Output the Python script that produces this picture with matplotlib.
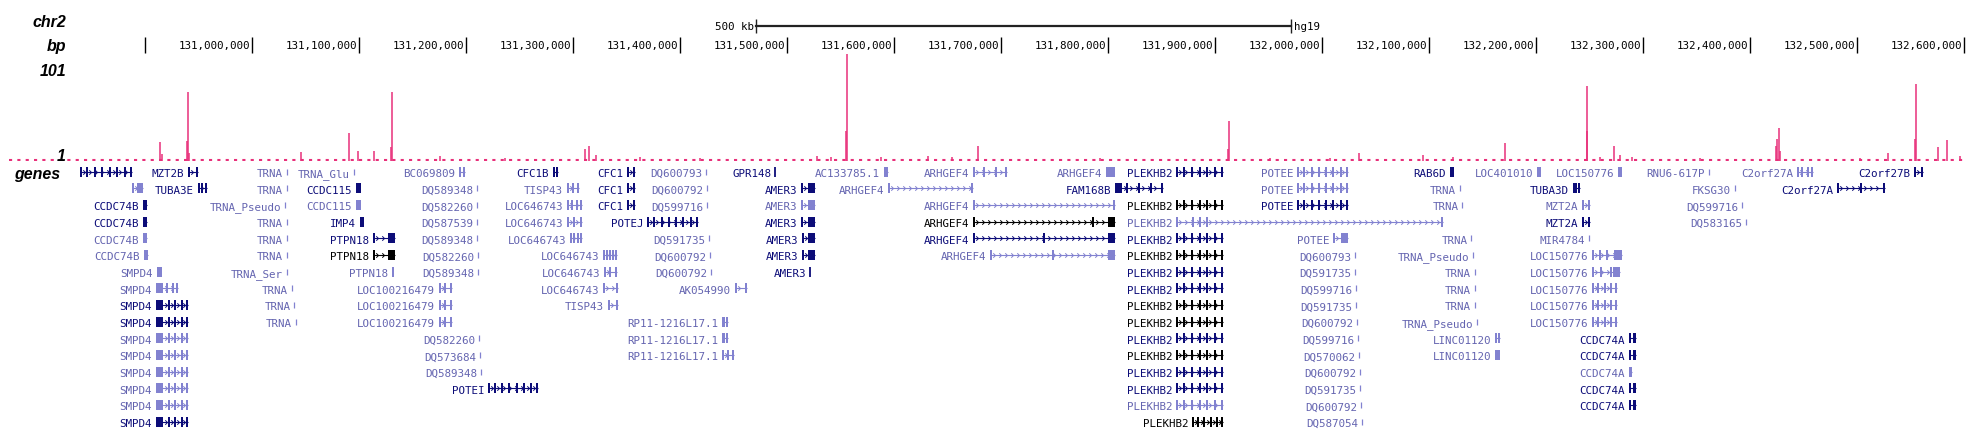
import numpy as np
import matplotlib
matplotlib.use("Agg")
import matplotlib.pyplot as plt
from matplotlib.patches import Rectangle
from matplotlib.path import Path

# ---------------------------------------------------------------- data (kb, hg19 chr2)
VIEW = (130764.2, 132602.5)
RULER_START = 130899.7
TICKS = [131000, 131100, 131200, 131300, 131400, 131500, 131600, 131700, 131800,
         131900, 132000, 132100, 132200, 132300, 132400, 132500, 132600]
SCALE_START = 131470.7
SCALE_LEN = 500

# signal track (peaks + small bumps)
PEAK_POS = [130913.7, 130916.0, 130938.7, 130939.6, 130941.0, 131045.5, 131090.4, 131098.5,
            131113.7, 131129.7, 131130.6, 131175.4, 131236.2, 131310.9, 131314.7, 131321.2,
            131362.3, 131418.4, 131527.8, 131540.8, 131555.0, 131555.8, 131587.6, 131631.5,
            131653.9, 131678.2, 131792.0, 131912.0, 131912.5, 131951.0, 132007.0, 132034.5,
            132094.1, 132122.1, 132170.7, 132247.0, 132247.8, 132259.6, 132272.6, 132278.2,
            132289.4, 132353.0, 132423.7, 132425.0, 132426.8, 132428.0, 132502.5, 132528.6,
            132554.0, 132554.5, 132575.4, 132583.5, 132596.0]
PEAK_VAL = [19, 7, 20, 69, 8, 9, 28, 10,
            10, 14, 69, 5, 3, 12, 15, 6,
            4, 3, 5, 4, 30, 107, 4, 5,
            4, 15, 3, 12, 40, 3, 3, 8,
            6, 4, 18, 30, 75, 4, 15, 6,
            4, 3, 15, 22, 33, 10, 3, 8,
            22, 77, 14, 21, 5]

# gene rows: (label, start, end, shade, exons, cap)
ROW0 = [("", 130839.0, 130887.6, 'd', 8, ''), ("MZT2B", 130939.9, 130949.2, 'd', 2, ''),
        ("TRNA", 131032.4, 131032.4, 'l', 0, ''), ("TRNA_Glu", 131095.0, 131095.0, 'l', 0, ''),
        ("BC069809", 131193.2, 131198.8, 'l', 2, ''), ("CFC1B", 131281.0, 131285.7, 'd', 2, ''),
        ("CFC1", 131350.2, 131357.7, 'd', 2, ''), ("DQ600793", 131424.0, 131424.0, 'l', 0, ''),
        ("GPR148", 131488.5, 131488.5, 'd', 1, ''), ("AC133785.1", 131590.4, 131594.1, 'l', 2, ''),
        ("ARHGEF4", 131673.6, 131705.3, 'l', 4, ''), ("ARHGEF4", 131797.8, 131806.3, 'l', 0, ''),
        ("PLEKHB2", 131863.3, 131907.2, 'd', 7, ''), ("POTEE", 131976.4, 132024.0, 'l', 8, ''),
        ("RAB6D", 132119.3, 132123.1, 'd', 0, ''), ("LOC401010", 132200.7, 132204.4, 'l', 0, ''),
        ("LOC150776", 132276.4, 132280.1, 'l', 0, ''), ("RNU6-617P", 132361.4, 132361.4, 'l', 0, ''),
        ("C2orf27A", 132443.6, 132458.6, 'l', 4, ''), ("C2orf27B", 132553.0, 132561.4, 'd', 2, '')]
ROW1 = [("", 130887.6, 130897.8, 'l', 2, 'R'), ("TUBA3E", 130949.2, 130957.7, 'd', 3, ''),
        ("TRNA", 131032.4, 131032.4, 'l', 0, ''), ("CCDC115", 131096.9, 131101.6, 'd', 0, ''),
        ("DQ589348", 131210.0, 131210.0, 'l', 0, ''), ("TISP43", 131294.1, 131305.3, 'l', 3, ''),
        ("CFC1", 131350.2, 131357.7, 'd', 2, ''), ("DQ600792", 131425.0, 131425.0, 'l', 0, ''),
        ("AMER3", 131512.8, 131525.9, 'd', 2, 'R'), ("ARHGEF4", 131594.1, 131673.6, 'l', 2, ''),
        ("FAM168B", 131806.3, 131851.1, 'd', 5, 'L'), ("POTEE", 131976.4, 132024.0, 'l', 8, ''),
        ("TRNA", 132128.7, 132128.7, 'l', 0, ''), ("TUBA3D", 132234.3, 132240.8, 'd', 3, ''),
        ("FKSG30", 132385.7, 132385.7, 'l', 0, ''), ("C2orf27A", 132481.0, 132525.9, 'd', 3, '')]
ROW2 = [("CCDC74B", 130897.8, 130901.6, 'd', 2, ''), ("TRNA_Pseudo", 131030.6, 131030.6, 'l', 0, ''),
        ("CCDC115", 131096.9, 131101.6, 'l', 0, ''), ("DQ582260", 131210.0, 131210.0, 'l', 0, ''),
        ("LOC646743", 131294.1, 131308.1, 'l', 4, ''), ("CFC1", 131350.2, 131357.7, 'd', 2, ''),
        ("DQ599716", 131425.0, 131425.0, 'l', 0, ''), ("AMER3", 131512.8, 131525.9, 'l', 2, 'R'),
        ("ARHGEF4", 131673.6, 131806.3, 'l', 2, ''), ("PLEKHB2", 131863.3, 131907.2, 'k', 7, ''),
        ("POTEE", 131976.4, 132024.0, 'd', 8, ''), ("TRNA", 132130.6, 132130.6, 'l', 0, ''),
        ("MZT2A", 132242.7, 132250.2, 'l', 2, ''), ("DQ599716", 132392.2, 132392.2, 'l', 0, '')]
ROW3 = [("CCDC74B", 130897.8, 130901.6, 'd', 2, ''), ("TRNA", 131032.4, 131032.4, 'l', 0, ''),
        ("IMP4", 131100.6, 131104.4, 'd', 0, ''), ("DQ587539", 131210.0, 131210.0, 'l', 0, ''),
        ("LOC646743", 131294.1, 131308.1, 'l', 3, ''), ("POTEJ", 131368.9, 131416.5, 'd', 8, ''),
        ("AMER3", 131512.8, 131525.9, 'd', 2, 'R'),
        ("ARHGEF4", 131673.6, 131806.3, 'k', (131673.6, 131785.6, 131806.3), 'R'),
        ("PLEKHB2", 131863.3, 132112.8, 'l', (131863.3, 131879.1, 131885.6, 131892.2, 132112.8), ''),
        ("MZT2A", 132242.7, 132250.2, 'd', 2, ''), ("DQ583165", 132396.0, 132396.0, 'l', 0, '')]
ROW4 = [("CCDC74B", 130897.8, 130901.6, 'l', 2, ''), ("TRNA", 131032.4, 131032.4, 'l', 0, ''),
        ("PTPN18", 131112.8, 131133.4, 'd', 2, 'R'), ("DQ589348", 131210.0, 131210.0, 'l', 0, ''),
        ("LOC646743", 131296.9, 131308.1, 'l', 4, ''), ("DQ591735", 131426.8, 131426.8, 'l', 0, ''),
        ("AMER3", 131513.7, 131525.9, 'd', 2, 'R'), ("ARHGEF4", 131673.6, 131806.3, 'd', 3, 'R'),
        ("PLEKHB2", 131863.3, 131907.2, 'd', 7, ''), ("POTEE", 132010.0, 132024.0, 'l', 2, 'R'),
        ("TRNA", 132139.0, 132139.0, 'l', 0, ''), ("MIR4784", 132249.3, 132249.3, 'l', 0, '')]
ROW5 = [("CCDC74B", 130898.8, 130902.5, 'l', 2, ''), ("TRNA", 131032.4, 131032.4, 'l', 0, ''),
        ("PTPN18", 131112.8, 131133.4, 'k', 2, 'R'), ("DQ582260", 131210.9, 131210.9, 'l', 0, ''),
        ("LOC646743", 131327.8, 131340.8, 'l', 5, ''), ("DQ600792", 131427.8, 131427.8, 'l', 0, ''),
        ("AMER3", 131513.7, 131525.9, 'd', 2, 'R'), ("ARHGEF4", 131689.4, 131806.3, 'l', 3, 'R'),
        ("PLEKHB2", 131863.3, 131907.2, 'k', 7, ''), ("DQ600793", 132030.6, 132030.6, 'l', 0, ''),
        ("TRNA_Pseudo", 132140.8, 132140.8, 'l', 0, ''), ("LOC150776", 132252.1, 132280.1, 'l', 5, 'R')]
ROW6 = [("SMPD4", 130910.9, 130915.6, 'l', 0, ''), ("TRNA_Ser", 131032.4, 131032.4, 'l', 0, ''),
        ("PTPN18", 131130.6, 131132.5, 'l', 0, ''), ("DQ589348", 131210.9, 131210.9, 'l', 0, ''),
        ("LOC646743", 131328.7, 131340.8, 'l', 3, ''), ("DQ600792", 131428.7, 131428.7, 'l', 0, ''),
        ("AMER3", 131521.2, 131521.2, 'd', 1, ''), ("PLEKHB2", 131863.3, 131907.2, 'd', 7, ''),
        ("DQ591735", 132030.6, 132030.6, 'l', 0, ''), ("TRNA", 132142.7, 132142.7, 'l', 0, ''),
        ("LOC150776", 132252.1, 132278.2, 'l', 4, 'R')]
ROW7 = [("SMPD4", 130910.0, 130930.6, 'l', 5, 'L'), ("TRNA", 131037.1, 131037.1, 'l', 0, ''),
        ("LOC100216479", 131174.5, 131186.6, 'l', 3, ''), ("LOC646743", 131327.8, 131341.8, 'l', 2, ''),
        ("AK054990", 131451.1, 131462.3, 'l', 2, ''), ("PLEKHB2", 131863.3, 131907.2, 'd', 7, ''),
        ("DQ599716", 132031.5, 132031.5, 'l', 0, ''), ("TRNA", 132142.7, 132142.7, 'l', 0, ''),
        ("LOC150776", 132252.1, 132275.4, 'l', 5, '')]
ROW8 = [("SMPD4", 130910.0, 130939.9, 'd', 6, 'L'), ("TRNA", 131039.0, 131039.0, 'l', 0, ''),
        ("LOC100216479", 131174.5, 131186.6, 'l', 3, ''), ("TISP43", 131332.4, 131341.8, 'l', 2, ''),
        ("PLEKHB2", 131863.3, 131907.2, 'k', 7, ''), ("DQ591735", 132031.5, 132031.5, 'l', 0, ''),
        ("TRNA", 132142.7, 132142.7, 'l', 0, ''), ("LOC150776", 132252.1, 132275.4, 'l', 5, '')]
ROW9 = [("SMPD4", 130910.0, 130939.9, 'd', 6, 'L'), ("TRNA", 131040.8, 131040.8, 'l', 0, ''),
        ("LOC100216479", 131174.5, 131186.6, 'l', 3, ''), ("RP11-1216L17.1", 131439.0, 131444.6, 'l', 2, 'L'),
        ("PLEKHB2", 131863.3, 131907.2, 'k', 7, ''), ("DQ600792", 132032.4, 132032.4, 'l', 0, ''),
        ("TRNA_Pseudo", 132144.6, 132144.6, 'l', 0, ''), ("LOC150776", 132252.1, 132275.4, 'l', 5, '')]
ROW10 = [("SMPD4", 130910.0, 130939.9, 'l', 6, 'L'), ("DQ582260", 131211.9, 131211.9, 'l', 0, ''),
         ("RP11-1216L17.1", 131439.0, 131444.6, 'l', 2, 'L'), ("PLEKHB2", 131863.3, 131907.2, 'd', 7, ''),
         ("DQ599716", 132033.4, 132033.4, 'l', 0, ''), ("LINC01120", 132161.4, 132166.1, 'l', 2, ''),
         ("CCDC74A", 132286.6, 132293.2, 'd', 2, 'R')]
ROW11 = [("SMPD4", 130910.0, 130939.9, 'l', 6, 'L'), ("DQ573684", 131212.8, 131212.8, 'l', 0, ''),
         ("RP11-1216L17.1", 131439.0, 131450.2, 'l', 3, ''), ("PLEKHB2", 131863.3, 131907.2, 'k', 7, ''),
         ("DQ570062", 132034.3, 132034.3, 'l', 0, ''), ("LINC01120", 132161.4, 132166.1, 'l', 0, ''),
         ("CCDC74A", 132286.6, 132293.2, 'd', 2, 'R')]
ROW12 = [("SMPD4", 130910.0, 130939.9, 'l', 6, 'L'), ("DQ589348", 131213.8, 131213.8, 'l', 0, ''),
         ("PLEKHB2", 131863.3, 131907.2, 'd', 7, ''), ("DQ600792", 132035.2, 132035.2, 'l', 0, ''),
         ("CCDC74A", 132286.6, 132289.4, 'l', 2, '')]
ROW13 = [("SMPD4", 130910.0, 130939.9, 'l', 6, 'L'), ("POTEI", 131220.3, 131267.0, 'd', 8, ''),
         ("PLEKHB2", 131863.3, 131907.2, 'd', 7, ''), ("DQ591735", 132035.2, 132035.2, 'l', 0, ''),
         ("CCDC74A", 132286.6, 132293.2, 'd', 2, 'R')]
ROW14 = [("SMPD4", 130910.0, 130939.9, 'l', 6, 'L'), ("PLEKHB2", 131863.3, 131907.2, 'l', 7, ''),
         ("DQ600792", 132036.2, 132036.2, 'l', 0, ''), ("CCDC74A", 132286.6, 132293.2, 'd', 2, 'R')]
ROW15 = [("SMPD4", 130910.0, 130939.9, 'd', 6, 'L'), ("PLEKHB2", 131878.2, 131907.2, 'k', 6, ''),
         ("DQ587054", 132037.1, 132037.1, 'l', 0, '')]
ROWS = [ROW0, ROW1, ROW2, ROW3, ROW4, ROW5, ROW6, ROW7, ROW8, ROW9,
        ROW10, ROW11, ROW12, ROW13, ROW14, ROW15]

# ---------------------------------------------------------------- style
W, H = 1967, 435
KB_PX = 0.9346                       # kb per pixel
PINK = "#e8307a"
SHADES = {'d': ("#0c0c78", "#0c0c78"), 'l': ("#8282d0", "#6464b0"), 'k': ("#000000", "#000000")}
MONO = "DejaVu Sans Mono"
FS = 7.8
LBL = dict(family="Liberation Sans", weight="bold", style="italic", fontsize=11.5)

fig = plt.figure(figsize=(W / 100, H / 100), dpi=100)


def band(top, bottom):
    ax = fig.add_axes([0, 1 - bottom / H, 1, (bottom - top) / H])
    ax.set_xlim(*VIEW)
    ax.axis("off")
    return ax


# ---------------------------------------------------------------- ruler
ax_top = band(0, 60)
ax_top.set_ylim(60, 0)
ax_top.plot([SCALE_START, SCALE_START + SCALE_LEN], [26.7, 26.7], color="#222222", lw=1.6)
ax_top.vlines([SCALE_START, SCALE_START + SCALE_LEN], 20, 34, color="#222222", lw=1)
ax_top.text(SCALE_START - 2 * KB_PX, 27, f"{SCALE_LEN} kb", ha="right", va="center",
            family=MONO, fontsize=FS)
ax_top.text(SCALE_START + SCALE_LEN + 3 * KB_PX, 27, "hg19", ha="left", va="center",
            family=MONO, fontsize=FS)
ax_top.vlines([RULER_START] + TICKS, 38, 54, color="black", lw=1)
for t in TICKS:
    ax_top.text(t - 2 * KB_PX, 46.5, f"{t * 1000:,}", ha="right", va="center",
                family=MONO, fontsize=FS)

# ---------------------------------------------------------------- signal
ax_sig = band(55, 162)
ax_sig.set_ylim(0, 107)
ax_sig.hlines(1.2, VIEW[0] + 8, VIEW[1], color=PINK, lw=1.5, linestyles=(0, (1.5, 2.5)))
ax_sig.vlines(PEAK_POS, 0, PEAK_VAL, color=PINK, lw=1.1)

# ---------------------------------------------------------------- genes
ax_g = band(164.4, 435)
ax_g.set_ylim((435 - 172.7) / 16.67, -0.5)
chev = Path([(-1, 1), (0, 0), (-1, -1)], [Path.MOVETO, Path.LINETO, Path.LINETO])
EX_H = 0.6
EX_W = 2 * KB_PX

for r, row in enumerate(ROWS):
    for label, s, e, shade, ex, cap in row:
        gcol, tcol = SHADES[shade]
        if s == e:
            h = EX_H if ex == 1 else 0.36
            ax_g.vlines(s, r - h / 2, r + h / 2, color=gcol, lw=1.3 if ex == 1 else 0.9)
        elif ex == 0:
            ax_g.add_patch(Rectangle((s, r - EX_H / 2), e - s, EX_H, color=gcol, lw=0))
        else:
            ax_g.plot([s, e], [r, r], color=gcol, lw=0.8, solid_capstyle="butt")
            if e - s > 8 * KB_PX:
                xs = np.arange(s + 5 * KB_PX, e - 2 * KB_PX, 6 * KB_PX)
                ax_g.plot(xs, np.full(len(xs), r), ls="none", marker=chev, ms=3.2,
                          mew=0.7, mfc="none", mec=gcol)
            pos = ex if isinstance(ex, tuple) else np.linspace(s, e, ex)
            for p in pos:
                x0 = min(max(p - EX_W / 2, s), e - EX_W)
                ax_g.add_patch(Rectangle((x0, r - EX_H / 2), EX_W, EX_H, color=gcol, lw=0))
            if cap:
                cw = min(7 * KB_PX, (e - s) * 0.5)
                cx = s if cap == 'L' else e - cw
                ax_g.add_patch(Rectangle((cx, r - EX_H / 2), cw, EX_H, color=gcol, lw=0))
        if label:
            ax_g.text(s - 3.8 * KB_PX, r + 0.25, label, ha="right", va="baseline",
                      color=tcol, family=MONO, fontsize=FS)

# ---------------------------------------------------------------- track labels
for txt, y, x in [("chr2", 22.7, 66), ("bp", 46.7, 66), ("101", 71, 66),
                  ("1", 157, 66), ("genes", 175, 60)]:
    fig.text(x / W, 1 - y / H, txt, ha="right", va="center", **LBL)

fig.savefig("out.png", dpi=100)
